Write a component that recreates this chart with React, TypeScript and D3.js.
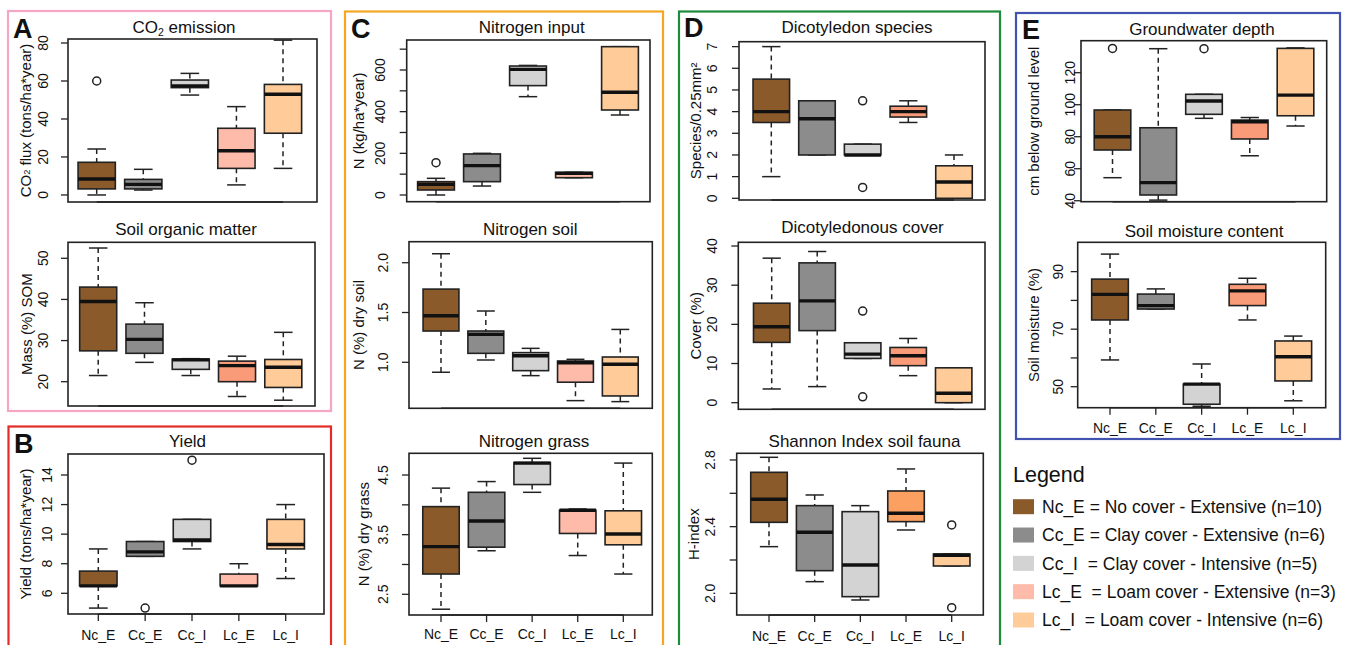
import * as d3 from "d3";

const FONT = "'Liberation Sans', Arial, Helvetica, sans-serif";

const groups = ["Nc_E", "Cc_E", "Cc_I", "Lc_E", "Lc_I"];
const fills = ["#8B5A2B", "#8C8C8C", "#D3D3D3", "#FFBBAA", "#FFCC99"];
const lcESalmon = "#F99B78";
const lcEOrange = "#FBA060";

const legendLabels = [
  "Nc_E = No cover - Extensive (n=10)",
  "Cc_E = Clay cover - Extensive (n=6)",
  "Cc_I  = Clay cover - Intensive (n=5)",
  "Lc_E  = Loam cover - Extensive (n=3)",
  "Lc_I  = Loam cover - Intensive (n=6)",
];

// [lower whisker, Q1, median, Q3, upper whisker] per group
const co2Stats = [
  [0, 3.2, 8.4, 17.2, 24.2],
  [2.6, 3.2, 5.6, 8.2, 13.5],
  [52.6, 56.5, 57.4, 60.5, 64],
  [5.3, 14, 23.3, 35.1, 46.5],
  [14, 32.5, 53, 58.2, 81.5],
];
const co2Out = [[60], [], [], [], []];

const somStats = [
  [21.5, 27.5, 39.5, 43, 52.5],
  [24.7, 26.9, 30.3, 34, 39.2],
  [21.5, 23, 25.3, 25.5, 25.6],
  [16.4, 20, 23.9, 25, 26.2],
  [15.5, 18.6, 23.5, 25.4, 32],
];
const somOut = [[], [], [], [], []];

const yieldStats = [
  [5, 6.5, 6.5, 7.5, 9],
  [8.5, 8.5, 8.8, 9.5, 9.5],
  [9, 9.5, 9.6, 11, 11],
  [6.5, 6.5, 6.5, 7.3, 8],
  [7, 9, 9.3, 11, 12],
];
const yieldOut = [[], [5], [15], [], []];

const nInputStats = [
  [0, 24, 51, 64, 80],
  [43, 64, 141, 197, 200],
  [472, 525, 603, 619, 622],
  [83, 83, 104, 109, 109],
  [384, 408, 493, 712, 712],
];
const nInputOut = [[155], [], [], [], []];

const nSoilStats = [
  [0.9, 1.314, 1.467, 1.735, 2.09],
  [1.023, 1.09, 1.28, 1.314, 1.515],
  [0.866, 0.916, 1.066, 1.097, 1.14],
  [0.615, 0.8, 0.996, 1.013, 1.03],
  [0.605, 0.662, 0.98, 1.053, 1.33],
];
const nSoilOut = [[], [], [], [], []];

const nGrassStats = [
  [2.25, 2.84, 3.3, 3.97, 4.28],
  [3.23, 3.29, 3.73, 4.21, 4.39],
  [4.21, 4.34, 4.7, 4.71, 4.78],
  [3.15, 3.52, 3.91, 3.91, 3.93],
  [2.84, 3.33, 3.51, 3.9, 4.7],
];
const nGrassOut = [[], [], [], [], []];

const speciesStats = [
  [1, 3.5, 4, 5.5, 7],
  [2, 2, 3.67, 4.5, 4.5],
  [2, 2, 2, 2.5, 2.5],
  [3.5, 3.75, 4, 4.25, 4.5],
  [0, 0, 0.75, 1.5, 2],
];
const speciesOut = [[], [], [4.5, 0.5], [], []];

const coverStats = [
  [3.5, 15.4, 19.4, 25.4, 36.9],
  [4.1, 18.4, 26, 35.7, 38.6],
  [11.3, 11.3, 12.4, 15.3, 15.3],
  [6.9, 9.45, 12, 14.1, 16.4],
  [0, 0, 2.4, 8.9, 8.9],
];
const coverOut = [[], [], [23.4, 1.5], [], []];

const shannonStats = [
  [2.28, 2.426, 2.564, 2.726, 2.816],
  [2.07, 2.136, 2.366, 2.526, 2.59],
  [1.96, 1.98, 2.17, 2.49, 2.526],
  [2.38, 2.43, 2.48, 2.614, 2.746],
  [2.164, 2.164, 2.228, 2.236, 2.236],
];
const shannonOut = [[], [], [], [], [2.41, 1.914]];

const groundStats = [
  [54.4, 71.7, 80, 96.7, 96.7],
  [40.4, 43.6, 51.3, 85.6, 135],
  [91.5, 94, 102.3, 106.5, 106.5],
  [68.1, 78.6, 89.4, 90.4, 92],
  [86.7, 93.1, 106, 135.2, 135.5],
];
const groundOut = [[135.2], [], [135], [], []];

const moistStats = [
  [59.3, 73.2, 82.1, 87.4, 96.1],
  [77, 77, 78.2, 82.2, 84],
  [43.2, 43.9, 50.9, 50.9, 57.9],
  [73.2, 78.2, 83.3, 85.6, 87.7],
  [45.1, 52, 60.4, 65.9, 67.6],
];
const moistOut = [[], [], [], [], []];

type Plot = {
  title: string[];
  ylab: string[];
  stats: number[][];
  outs: number[][];
  ylim: [number, number];
  ticks: number[];
  labels: number[];
  fmt?: string;
  box: [number, number, number, number];
  centers: [number, number];
  tickX: number;
  ylabX: number;
  titleX: number;
  titleY: number;
  xlabY?: number;
  lcE?: string;
};

const plots: Plot[] = [
  {
    title: ["CO", "2", " emission"], ylab: ["CO", "2", " flux (tons/ha*year)"],
    stats: co2Stats, outs: co2Out, ylim: [-3.7, 82.1],
    ticks: [0, 20, 40, 60, 80], labels: [0, 20, 40, 60, 80],
    box: [68, 39, 317, 202], centers: [96.7, 283], tickX: 43, ylabX: 25, titleX: 184, titleY: 33,
  },
  {
    title: ["Soil organic matter"], ylab: ["Mass (%) SOM"],
    stats: somStats, outs: somOut, ylim: [14.09, 53.89],
    ticks: [20, 30, 40, 50], labels: [20, 30, 40, 50],
    box: [68, 242.3, 315, 406], centers: [98.2, 283.3], tickX: 43.3, ylabX: 26.7, titleX: 186, titleY: 235,
    lcE: lcESalmon,
  },
  {
    title: ["Yield"], ylab: ["Yield (tons/ha*year)"],
    stats: yieldStats, outs: yieldOut, ylim: [4.6, 15.42],
    ticks: [6, 8, 10, 12, 14], labels: [6, 8, 10, 12, 14],
    box: [68, 454, 324, 614], centers: [98.3, 285.7], tickX: 47, ylabX: 25, titleX: 187.5, titleY: 446.7,
    xlabY: 640,
  },
  {
    title: ["Nitrogen input"], ylab: ["N (kg/ha*year)"],
    stats: nInputStats, outs: nInputOut, ylim: [-32.2, 744],
    ticks: [0, 100, 200, 300, 400, 500, 600, 700], labels: [0, 200, 400, 600],
    box: [406.7, 40, 650, 201.7], centers: [436, 620], tickX: 380, ylabX: 358, titleX: 531.7, titleY: 33.3,
  },
  {
    title: ["Nitrogen soil"], ylab: ["N (%) dry soil"],
    stats: nSoilStats, outs: nSoilOut, ylim: [0.538, 2.211],
    ticks: [1, 1.5, 2], labels: [1, 1.5, 2], fmt: ".1f",
    box: [409, 241.7, 652.3, 408.3], centers: [441, 620.3], tickX: 383, ylabX: 358, titleX: 530.3, titleY: 235,
  },
  {
    title: ["Nitrogen grass"], ylab: ["N (%) dry grass"],
    stats: nGrassStats, outs: nGrassOut, ylim: [2.153, 4.864],
    ticks: [2.5, 3, 3.5, 4, 4.5], labels: [2.5, 3.5, 4.5], fmt: ".1f",
    box: [409, 453.3, 652.3, 615], centers: [441, 623.3], tickX: 383, ylabX: 363, titleX: 534, titleY: 446.7,
    xlabY: 639,
  },
  {
    title: ["Dicotyledon species"], ylab: ["Species/0.25mm\u00B2"],
    stats: speciesStats, outs: speciesOut, ylim: [-0.078, 7.227],
    ticks: [0, 1, 2, 3, 4, 5, 6, 7], labels: [0, 1, 2, 3, 4, 5, 6, 7],
    box: [739, 41.7, 985, 200], centers: [771.3, 954], tickX: 711.7, ylabX: 695, titleX: 857, titleY: 33.3,
    lcE: lcESalmon,
  },
  {
    title: ["Dicotyledonous cover"], ylab: ["Cover (%)"],
    stats: coverStats, outs: coverOut, ylim: [-1.69, 40.95],
    ticks: [0, 10, 20, 30, 40], labels: [0, 10, 20, 30, 40],
    box: [738.3, 242.3, 985, 409.3], centers: [771.7, 953.7], tickX: 711.7, ylabX: 695, titleX: 862.5, titleY: 233.3,
    lcE: lcESalmon,
  },
  {
    title: ["Shannon Index soil fauna"], ylab: ["H-index"],
    stats: shannonStats, outs: shannonOut, ylim: [1.87, 2.84],
    ticks: [2, 2.2, 2.4, 2.6, 2.8], labels: [2, 2.4, 2.8], fmt: ".1f",
    box: [736.7, 453.3, 983.3, 615], centers: [769, 951.7], tickX: 710, ylabX: 693, titleX: 864.5, titleY: 446.7,
    xlabY: 641, lcE: lcEOrange,
  },
  {
    title: ["Groundwater depth"], ylab: ["cm below ground level"],
    stats: groundStats, outs: groundOut, ylim: [39.4, 140],
    ticks: [40, 60, 80, 100, 120], labels: [40, 60, 80, 100, 120],
    box: [1081, 40.7, 1326.7, 201.7], centers: [1112.5, 1295.5], tickX: 1070, ylabX: 1033, titleX: 1202, titleY: 35,
    lcE: lcESalmon,
  },
  {
    title: ["Soil moisture content"], ylab: ["Soil moisture (%)"],
    stats: moistStats, outs: moistOut, ylim: [42.7, 100.2],
    ticks: [50, 60, 70, 80, 90], labels: [50, 70, 90],
    box: [1077.7, 242.3, 1325.7, 407.7], centers: [1110, 1293.3], tickX: 1058, ylabX: 1033, titleX: 1204, titleY: 236.7,
    xlabY: 433, lcE: lcESalmon,
  },
];

const frames = [
  { letter: "A", color: "#F4A6C4", x: 8, y: 11, w: 323, h: 400, lx: 13, ly: 38 },
  { letter: "B", color: "#E52A2A", x: 8.5, y: 426.5, w: 322.5, h: 240, lx: 14, ly: 453 },
  { letter: "C", color: "#F5A623", x: 345, y: 11.5, w: 318, h: 660, lx: 351, ly: 38.3 },
  { letter: "D", color: "#1F8B3A", x: 679, y: 11.5, w: 321, h: 660, lx: 684, ly: 37.3 },
  { letter: "E", color: "#4254B0", x: 1016, y: 13, w: 324, h: 426, lx: 1022, ly: 39.3 },
];

function Rich({ parts, size }: { parts: string[]; size: number }) {
  if (parts.length === 1) return <>{parts[0]}</>;
  return (
    <>
      {parts[0]}
      <tspan fontSize={size * 0.62} baselineShift="-25%">{parts[1]}</tspan>
      <tspan>{parts[2]}</tspan>
    </>
  );
}

function BoxPlot({ p }: { p: Plot }) {
  const [x0, y0, x1, y1] = p.box;
  const y = d3.scaleLinear().domain(p.ylim).range([y1, y0]);
  const x = d3.scaleLinear().domain([1, 5]).range(p.centers);
  const bw = 0.8 * (x(2) - x(1));
  const fmt = p.fmt ? d3.format(p.fmt) : (v: number) => String(v);
  const stroke = "#222";
  return (
    <g>
      <text x={p.titleX} y={p.titleY} textAnchor="middle" fontSize={17} fontFamily={FONT} fill="#111">
        <Rich parts={p.title} size={17} />
      </text>
      <text
        transform={`translate(${p.ylabX},${(y0 + y1) / 2}) rotate(-90)`}
        textAnchor="middle" dominantBaseline="central" fontSize={15} fontFamily={FONT} fill="#111"
      >
        <Rich parts={p.ylab} size={15} />
      </text>
      {p.ticks.map((t) => (
        <line key={t} x1={x0} x2={x0 - 7} y1={y(t)} y2={y(t)} stroke={stroke} strokeWidth={1.3} />
      ))}
      {p.labels.map((t) => (
        <text
          key={t}
          transform={`translate(${p.tickX},${y(t)}) rotate(-90)`}
          textAnchor="middle" dominantBaseline="central" fontSize={14} fontFamily={FONT} fill="#111"
        >
          {fmt(t)}
        </text>
      ))}
      {p.stats.map((s, i) => {
        const cx = x(i + 1);
        const [lo, q1, med, q3, hi] = s;
        const fill = i === 3 && p.lcE ? p.lcE : fills[i];
        return (
          <g key={groups[i]}>
            <line x1={cx} x2={cx} y1={y(hi)} y2={y(q3)} stroke={stroke} strokeWidth={1.5} strokeDasharray="5,4" />
            <line x1={cx} x2={cx} y1={y(q1)} y2={y(lo)} stroke={stroke} strokeWidth={1.5} strokeDasharray="5,4" />
            <line x1={cx - bw / 4} x2={cx + bw / 4} y1={y(hi)} y2={y(hi)} stroke={stroke} strokeWidth={1.5} />
            <line x1={cx - bw / 4} x2={cx + bw / 4} y1={y(lo)} y2={y(lo)} stroke={stroke} strokeWidth={1.5} />
            <rect
              x={cx - bw / 2} y={y(q3)} width={bw} height={Math.max(0.5, y(q1) - y(q3))}
              fill={fill} stroke={stroke} strokeWidth={1.6}
            />
            <line x1={cx - bw / 2} x2={cx + bw / 2} y1={y(med)} y2={y(med)} stroke="#111" strokeWidth={3.4} />
            {p.outs[i].map((o, k) => (
              <circle key={k} cx={cx} cy={y(o)} r={4} fill="none" stroke={stroke} strokeWidth={1.5} />
            ))}
          </g>
        );
      })}
      <rect x={x0} y={y0} width={x1 - x0} height={y1 - y0} fill="none" stroke={stroke} strokeWidth={1.6} />
      <line x1={x(1)} x2={x(5)} y1={y1} y2={y1} stroke={stroke} strokeWidth={1.6} />
      {p.xlabY !== undefined &&
        groups.map((g, i) => (
          <g key={g}>
            <line x1={x(i + 1)} x2={x(i + 1)} y1={y1} y2={y1 + 7} stroke={stroke} strokeWidth={1.3} />
            <text x={x(i + 1)} y={p.xlabY} textAnchor="middle" fontSize={14} fontFamily={FONT} fill="#111">
              {g}
            </text>
          </g>
        ))}
    </g>
  );
}

export default function App() {
  const legendY = d3.scaleLinear().domain([0, 4]).range([506.7, 620]);
  return (
    <svg width={1346} height={645} style={{ position: "absolute", left: 0, top: 0, background: "#fff" }}>
      <rect width={1346} height={645} fill="#fff" />
      {frames.map((f) => (
        <g key={f.letter}>
          <rect x={f.x} y={f.y} width={f.w} height={f.h} fill="none" stroke={f.color} strokeWidth={2.2} />
          <text x={f.lx} y={f.ly} fontSize={27} fontWeight="bold" fontFamily={FONT} fill="#111">
            {f.letter}
          </text>
        </g>
      ))}
      {plots.map((p, i) => (
        <BoxPlot key={i} p={p} />
      ))}
      <text x={1013} y={481.7} fontSize={21.5} fontFamily={FONT} fill="#111">
        Legend
      </text>
      {legendLabels.map((l, i) => (
        <g key={l}>
          <rect x={1013} y={legendY(i) - 7.5} width={21} height={15} fill={fills[i]} />
          <text
            x={1042} y={legendY(i) + 6.3} fontSize={17.5} fontFamily={FONT} fill="#111"
            style={{ whiteSpace: "pre" }}
          >
            {l}
          </text>
        </g>
      ))}
    </svg>
  );
}
